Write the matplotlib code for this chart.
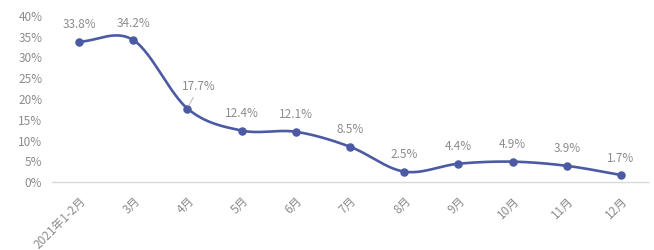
import matplotlib
matplotlib.use("Agg")
import matplotlib.pyplot as plt
import numpy as np

plt.rcParams['font.family'] = ['Noto Sans CJK SC', 'DejaVu Sans']

# data
months = ['2021年1-2月', '3月', '4月', '5月', '6月', '7月', '8月', '9月', '10月', '11月', '12月']
growth = [33.8, 34.2, 17.7, 12.4, 12.1, 8.5, 2.5, 4.4, 4.9, 3.9, 1.7]

line_color = '#4b5aa3'
text_color = '#8c8c8c'


def smooth(x, y, n=30):
    # Catmull-Rom curve through the points (like a spreadsheet "smoothed line")
    x = np.asarray(x, float)
    y = np.asarray(y, float)
    px = np.concatenate([[2 * x[0] - x[1]], x, [2 * x[-1] - x[-2]]])
    py = np.concatenate([[2 * y[0] - y[1]], y, [2 * y[-1] - y[-2]]])
    xs, ys = [], []
    t = np.linspace(0, 1, n)
    for i in range(1, len(px) - 2):
        for p, out in ((px, xs), (py, ys)):
            p0, p1, p2, p3 = p[i - 1], p[i], p[i + 1], p[i + 2]
            out.extend(0.5 * ((2 * p1) + (-p0 + p2) * t
                              + (2 * p0 - 5 * p1 + 4 * p2 - p3) * t ** 2
                              + (-p0 + 3 * p1 - 3 * p2 + p3) * t ** 3))
    return np.array(xs), np.array(ys)


x = np.arange(len(months))
fig = plt.figure(figsize=(6.54, 2.5), dpi=100)
ax = fig.add_axes([52 / 654, 1 - 182 / 250, 596 / 654, 166 / 250])

sx, sy = smooth(x, growth)
ax.plot(sx, sy, color=line_color, lw=1.9, zorder=2)
ax.scatter(x, growth, s=26, color=line_color, zorder=3)

for i, v in enumerate(growth):
    if i == 2:
        ax.annotate(f'{v}%', (i, v), xytext=(8, 11), textcoords='offset points',
                    ha='center', va='bottom', fontsize=8.5, color=text_color,
                    arrowprops=dict(arrowstyle='-', color='#bfbfbf', lw=0.8,
                                    shrinkA=1, shrinkB=3))
    else:
        ax.annotate(f'{v}%', (i, v), xytext=(0, 7.5), textcoords='offset points',
                    ha='center', va='bottom', fontsize=8.5, color=text_color)

ax.set_xlim(-0.5, len(months) - 0.5)
ax.set_ylim(0, 40)
ax.set_yticks(np.arange(0, 41, 5))
ax.set_yticklabels([f'{t}%' for t in range(0, 41, 5)])
ax.set_xticks(x)
ax.set_xticklabels(months, rotation=45, ha='right', rotation_mode='anchor')
ax.tick_params(length=0, colors=text_color, labelsize=8.5)
ax.tick_params(axis='x', pad=9)
ax.tick_params(axis='y', pad=7)

for s in ['top', 'right', 'left']:
    ax.spines[s].set_visible(False)
ax.spines['bottom'].set_color('#d9d9d9')
ax.spines['bottom'].set_linewidth(1)

fig.savefig('out.png', dpi=100)
